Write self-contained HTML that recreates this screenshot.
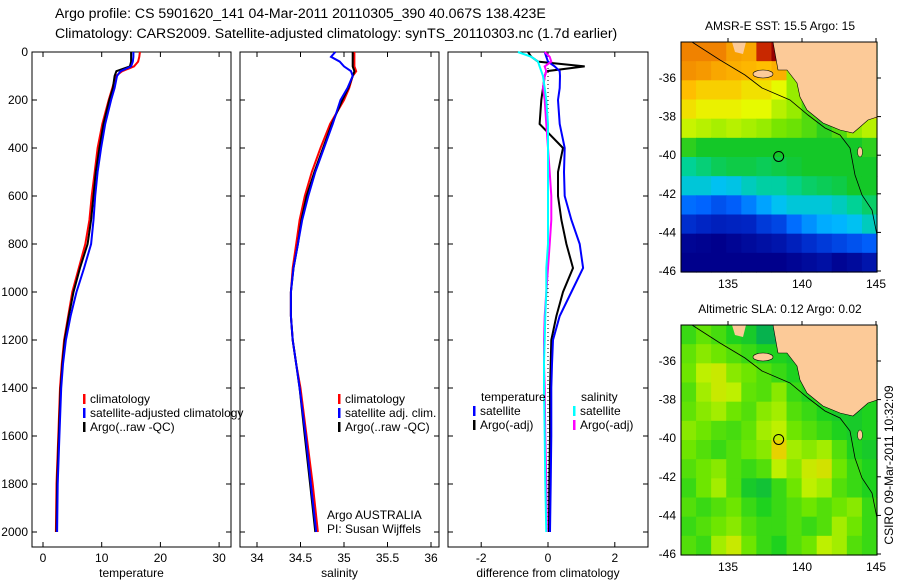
<!DOCTYPE html>
<html><head><meta charset="utf-8"><style>
body{margin:0;background:#fff;}
svg{display:block;font-family:"Liberation Sans",sans-serif;}
</style></head><body>
<svg id="s" width="900" height="580" viewBox="0 0 900 580">
<text x="55" y="18" font-size="14.1">Argo profile: CS 5901620_141 04-Mar-2011 20110305_390 40.067S 138.423E</text>
<text x="55" y="38" font-size="14.1">Climatology: CARS2009. Satellite-adjusted climatology: synTS_20110303.nc (1.7d earlier)</text>
<g id="g"></g>
</svg>
<script>
const depths=[0,20,40,60,80,100,150,200,300,400,500,600,700,800,900,1000,1100,1200,1300,1400,1600,1800,2000];
const climT=[16.5,16.4,16.2,15.5,13.5,12.4,11.8,11.2,10.1,9.3,8.8,8.3,7.9,7.2,6.1,5.0,4.3,3.6,3.2,2.9,2.6,2.3,2.2];
const satT=[15.4,15.4,15.3,15,13.2,12.6,12.2,11.6,10.6,9.9,9.3,8.9,8.6,8.2,7.0,5.7,4.7,3.9,3.4,3.1,2.8,2.5,2.4];
const argoT=[15,15,15,14.8,12.5,12.2,11.9,11.3,10.3,9.6,9.0,8.6,8.2,7.6,6.3,5.2,4.4,3.7,3.3,3.0,2.7,2.4,2.3];
const climS=[35.12,35.12,35.12,35.12,35.14,35.1,35.06,35.0,34.84,34.73,34.63,34.55,34.49,34.45,34.41,34.39,34.39,34.41,34.45,34.5,34.57,34.64,34.7];
const satS=[34.9,34.85,34.95,35.0,35.08,35.1,35.04,34.96,34.87,34.77,34.67,34.59,34.52,34.47,34.42,34.39,34.39,34.41,34.45,34.49,34.56,34.62,34.68];
const argoS=[35.1,35.1,35.1,35.1,35.12,35.1,35.05,34.98,34.86,34.76,34.66,34.57,34.51,34.47,34.42,34.39,34.39,34.41,34.45,34.49,34.55,34.61,34.67];
const dTsat=[-0.1,-0.05,0.0,0.2,0.35,0.36,0.35,0.3,0.35,0.5,0.48,0.5,0.7,0.95,1.05,0.7,0.35,0.15,0.12,0.1,0.1,0.08,0.06];
const dTargo=[-0.6,-0.5,-0.3,1.1,-0.05,-0.1,-0.15,-0.2,-0.25,0.45,0.3,0.3,0.4,0.55,0.75,0.45,0.25,0.1,0.08,0.06,0.06,0.04,0.03];
const dSsat=[-0.9,-0.5,-0.3,-0.25,-0.2,-0.15,-0.1,-0.05,0,0,0,0,0,0,-0.05,-0.05,-0.08,-0.1,-0.12,-0.12,-0.1,-0.08,-0.05];
const dSargo=[-0.1,0.05,0.1,-0.1,-0.05,-0.1,-0.15,-0.1,-0.05,0,0.05,0.1,0.1,0.05,0,-0.05,-0.1,-0.12,-0.12,-0.1,-0.08,-0.05,-0.03];
const depthTicks=[0,200,400,600,800,1000,1200,1400,1600,1800,2000];
const tempTicks=[0,10,20,30];
const salTicks=[34,34.5,35,35.5,36];
const diffTicks=[-2,0,2];
const latTicks=[-36,-38,-40,-42,-44,-46];
const lonTicks=[135,140,145];
const sstGrid=[
[18,18,18,17.6,17.5,19,20,20,15,15,15,15,15],
[17.8,17.7,17.5,17.4,17.3,17.2,17.4,16,15,15,15,15,15],
[17.2,17,17,17,16.8,16.8,16.5,16,15.2,15,15,15,15],
[16.8,16.6,16.6,16.6,16.5,16.5,16.2,16,15.5,15,15,17,17],
[16.3,16.2,16.1,16.2,16.1,16,15.8,15.7,15.5,15.2,15.5,16,16.2],
[15.2,15,15,15,15,15,15,15,15,15,15,15,15.2],
[14.3,14.5,14.7,14.8,14.8,14.7,14.8,14.9,15,15,15,15,15],
[13.8,13.8,13.6,13.7,14,14.2,14.2,14.4,14.6,14.7,14.8,15,15],
[12.6,12.5,12.2,12.4,12.8,13.2,13.6,13.8,13.8,13.8,14,14.3,14.6],
[11.6,11.4,11.2,11.3,11.4,11.8,12,12.6,13,13.3,13.4,13.6,14],
[10.2,10.1,10,10.2,10.4,10.6,10.8,11.2,11.6,11.8,12,12.2,12.4],
[10,10,10,10,10,10,10,10.2,10.4,10.6,10.2,10.4,10.8]];
const slaGrid=[
[0.02,0.05,0.03,0.0,-0.02,-0.08,-0.08,0,0,0,0,0,0],
[0.05,0.08,0.06,0.04,0.02,0,0,-0.02,0,0,0,0,0],
[0.06,0.12,0.14,0.08,0.06,0.04,0.02,0,-0.02,0,0,0,0],
[0.04,0.1,0.14,0.12,0.05,0.04,0.08,0.02,0,-0.02,-0.03,0,0],
[0.05,0.08,0.1,0.06,0.04,0.08,0.1,0.04,0.02,0,-0.02,-0.02,0],
[0.08,0.06,0.04,0.03,0.05,0.1,0.12,0.06,0.04,0.02,0,-0.02,0],
[0.06,0.04,0.02,0.04,0.06,0.08,0.2,0.1,0.08,0.1,0.04,0,-0.02],
[0.04,0.06,0.08,0.04,0.02,0.04,0.12,0.08,0.14,0.16,0.06,0.02,0],
[0.02,0.06,0.1,0.04,-0.02,-0.04,0.02,0.06,0.12,0.1,0.04,0.02,0],
[0.04,0.02,0.04,0.06,0.02,0,0.02,0.04,0.06,0.04,0.06,0.08,0.02],
[0.02,0.04,0.06,0.08,0.04,0.02,0.02,0.04,0.02,0.04,0.1,0.06,0.02],
[0.04,0.02,0.1,0.14,0.06,0.02,0,0.04,0.06,0.12,0.1,0.04,0.02]];
const argoLon=138.423, argoLat=-40.067;

const NS='http://www.w3.org/2000/svg';
const G=document.getElementById('g');
function mk(tag,attrs,parent){const e=document.createElementNS(NS,tag);for(const k in attrs)e.setAttribute(k,attrs[k]);(parent||G).appendChild(e);return e;}
function txt(x,y,s,size,anchor,parent){const t=mk('text',{x:x,y:y,'font-size':size||12,'text-anchor':anchor||'start'},parent);t.textContent=s;return t;}
const yD=d=>52+d*0.24;
const PB=547;

function panel(name,x0,x1,xs,ticks,fmt,title,showY){
  const g=mk('g',{});
  
  
  const r=mk('rect',{x:x0,y:52,width:x1-x0,height:PB-52,fill:'none',stroke:'#000','stroke-width':1},g);
  
  
  ticks.forEach(v=>{const x=xs(v);
    mk('line',{x1:x,x2:x,y1:PB,y2:PB-5,stroke:'#000'},g);mk('line',{x1:x,x2:x,y1:52,y2:57,stroke:'#000'},g);
    const t=txt(x,562,fmt(v),12,'middle',g);
    
    });
  depthTicks.forEach(d=>{const y=yD(d);
    mk('line',{x1:x0,x2:x0+5,y1:y,y2:y,stroke:'#000'},g);mk('line',{x1:x1-5,x2:x1,y1:y,y2:y,stroke:'#000'},g);
    if(showY){const t=txt(28,y+4,String(d),12,'end',g);
      
      }});
  const tt=txt((x0+x1)/2,577,title,12,'middle',g);
  
  
  return g;
}
function series(g,xs,vals,color,name){
  const pts=vals.map((v,i)=>xs(v).toFixed(1)+','+yD(depths[i]).toFixed(1)).join(' ');
  const p=mk('polyline',{points:pts,fill:'none',stroke:color,'stroke-width':2},g);
  
  
}
function legend(g,x,y,color,label,name){
  mk('rect',{x:x,y:y-9,width:2.5,height:10,fill:color},g);
  const t=txt(x+7,y,label,12,'start',g);
  
  
}
const xT=v=>43+v*5.87;
const p1=panel('temperature-panel',32,231,xT,tempTicks,String,'temperature',true);
series(p1,xT,climT,'#f00','climatology-temp-line');
series(p1,xT,argoT,'#000','argo-temp-line');
series(p1,xT,satT,'#00f','satellite-temp-line');
legend(p1,83,403,'#f00','climatology','legend-climatology');
legend(p1,83,417,'#00f','satellite-adjusted climatology','legend-satellite-adjusted');
legend(p1,83,431,'#000','Argo(..raw -QC)','legend-argo');
const xS=v=>257+(v-34)*87;
const p2=panel('salinity-panel',240,439,xS,salTicks,String,'salinity',false);
series(p2,xS,climS,'#f00','climatology-sal-line');
series(p2,xS,argoS,'#000','argo-sal-line');
series(p2,xS,satS,'#00f','satellite-sal-line');
legend(p2,338,403,'#f00','climatology','legend-climatology-sal');
legend(p2,338,417,'#00f','satellite adj. clim.','legend-satellite-sal');
legend(p2,338,431,'#000','Argo(..raw -QC)','legend-argo-sal');
const a1=txt(327,519,'Argo AUSTRALIA',12,'start',p2);
const a2=txt(327,533,'PI: Susan Wijffels',12,'start',p2);
const xD=v=>548+v*33.4;
const p3=panel('difference-panel',448,648,xD,diffTicks,String,'difference from climatology',false);
const zl=mk('line',{x1:xD(0),x2:xD(0),y1:yD(0),y2:yD(2000),stroke:'#000','stroke-dasharray':'1,3'},p3);


series(p3,xD,dTargo,'#000','argo-temp-diff-line');
series(p3,xD,dTsat,'#00f','satellite-temp-diff-line');
series(p3,xD,dSargo,'#f0f','argo-sal-diff-line');
series(p3,xD,dSsat,'#0ff','satellite-sal-diff-line');
const lt=txt(481,401,'temperature',12,'start',p3);
const ls=txt(581,401,'salinity',12,'start',p3);
legend(p3,473,415,'#00f','satellite','legend-temp-satellite');
legend(p3,473,429,'#000','Argo(-adj)','legend-temp-argo');
legend(p3,573,415,'#0ff','satellite','legend-sal-satellite');
legend(p3,573,429,'#f0f','Argo(-adj)','legend-sal-argo');

function lerpC(stops,v){
  if(v<=stops[0][0])return stops[0][1];
  for(let i=1;i<stops.length;i++){if(v<=stops[i][0]){const a=stops[i-1],b=stops[i],t=(v-a[0])/(b[0]-a[0]);
    return 'rgb('+[0,1,2].map(k=>Math.round(a[1][k]+(b[1][k]-a[1][k])*t)).join(',')+')';}}
  const l=stops[stops.length-1][1];return 'rgb('+l.join(',')+')';
}
function fixc(c){return typeof c==='string'?c:'rgb('+c.join(',')+')';}
const sstStops=[[10,[0,0,140]],[11.5,[0,40,200]],[12.5,[0,100,255]],[13.5,[0,190,255]],[14.3,[0,210,150]],[15,[20,200,40]],[15.8,[120,230,0]],[16.5,[230,250,0]],[17.2,[255,190,0]],[18,[240,130,0]],[19,[200,40,0]],[20,[150,0,0]]];
const slaStops=[[-0.1,[0,170,90]],[0,[30,210,30]],[0.06,[110,230,0]],[0.12,[190,240,0]],[0.2,[230,210,0]]];
const MX0=681,MX1=877;
const lonX=lon=>728+(lon-135)*14.8;
function drawMap(name,top,grid,stops,title){
  const g=mk('g',{});
  
  
  const bot=top+230;
  const latY=lat=>top+36+(-lat-36)*19.3;
  const cw=(MX1-MX0)/grid[0].length,ch=(bot-top)/grid.length;
  grid.forEach((row,r)=>row.forEach((v,c)=>{
    const cell=mk('rect',{x:(MX0+c*cw).toFixed(2),y:(top+r*ch).toFixed(2),width:(cw+0.6).toFixed(2),height:(ch+0.6).toFixed(2),fill:fixc(lerpC(stops,v))},g);
    
    
  }));
  const o=top-42;
  const land=mk('polygon',{points:[[773,42],[778,70],[787,70],[797,83],[800,97],[807,110],[823,123],[840,130],[853,133],[860,127],[868,120],[877,117],[877,42]].map(p=>p[0]+','+(p[1]+o)).join(' '),fill:'#fcca98',stroke:'#000','stroke-width':0.6},g);
  
  
  const ki=mk('ellipse',{cx:763,cy:74+o,rx:10,ry:4,fill:'#fcca98',stroke:'#000','stroke-width':0.6},g);
  
  
  const yp=mk('polygon',{points:[[732,42],[746,42],[743,54],[735,52]].map(p=>p[0]+','+(p[1]+o)).join(' '),fill:'#fcca98'},g);
  
  
  const isl=mk('ellipse',{cx:860,cy:152+o,rx:2.5,ry:5,fill:'#fcca98',stroke:'#000','stroke-width':0.5},g);
  
  
  const sh=mk('polyline',{points:[[692,42],[720,60],[745,75],[762,88],[790,100],[808,115],[825,128],[840,135],[850,148],[855,175],[862,195],[872,210],[877,235]].map(p=>p[0]+','+(p[1]+o)).join(' '),fill:'none',stroke:'#000','stroke-width':0.8},g);
  
  
  const m=mk('circle',{cx:lonX(argoLon),cy:latY(argoLat),r:5,fill:'none',stroke:'#000','stroke-width':1},g);
  
  
  mk('rect',{x:MX0,y:top,width:MX1-MX0,height:bot-top,fill:'none',stroke:'#000'},g);
  latTicks.forEach(l=>{const y=latY(l);mk('line',{x1:MX1,x2:MX1+4,y1:y,y2:y,stroke:'#000'},g);
    const t=txt(676,y+4,String(l),12,'end',g);});
  lonTicks.forEach(l=>{const x=lonX(l);mk('line',{x1:x,x2:x,y1:top-4,y2:top,stroke:'#000'},g);
    const t=txt(x,bot+16,String(l),12,'middle',g);});
  const tt=txt(780,top-12,title,12,'middle',g);
  
  
}
drawMap('sst-map',42,sstGrid,sstStops,'AMSR-E SST: 15.5 Argo: 15');
drawMap('sla-map',325,slaGrid,slaStops,'Altimetric SLA: 0.12 Argo: 0.02');
const cs=txt(0,0,'CSIRO 09-Mar-2011 10:32:09',12,'middle');
cs.setAttribute('transform','translate(893,465) rotate(-90)');


</script>
</body></html>
